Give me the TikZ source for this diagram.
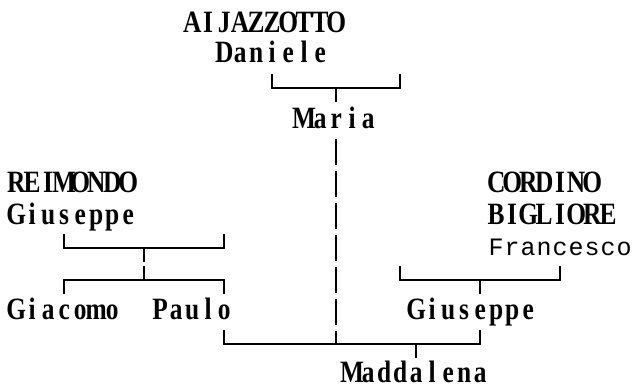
\documentclass[tikz,border=0pt]{standalone}
\usepackage{fontspec}
\newfontfamily\namefont{Liberation Serif}[FakeStretch=0.82]
\newfontfamily\codefont{Liberation Mono}
\newcommand\cellchars[1]{\cellcharsi#1\relax}
\def\cellcharsi#1{\ifx\relax#1\else\makebox[16pt]{#1}\expandafter\cellcharsi\fi}
\tikzset{
  person/.style={anchor=base west, inner sep=0pt, font=\namefont\bfseries\fontsize{31}{32}\selectfont},
  persontt/.style={anchor=base west, inner sep=0pt, font=\codefont\fontsize{25}{32}\selectfont},
  link/.style={line width=1.6pt, line cap=rect},
  vdash/.style={line width=1.6pt, dash pattern=on 26pt off 6pt}
}
\begin{document}
\begin{tikzpicture}[x=1pt,y=-1pt]
\useasboundingbox[fill=white] (0,0) rectangle (633,388);
% names
\node[person] (aij) at (184,32) {\cellchars{AIJAZZOTTO}};
\node[person] (dan) at (216,63) {\cellchars{Daniele}};
\node[person] (mar) at (296,128) {\cellchars{Maria}};
\node[person] (rei) at (8,192) {\cellchars{REIMONDO}};
\node[person] (giuL) at (8,224) {\cellchars{Giuseppe}};
\node[person] (cor) at (488,192) {\cellchars{CORDINO}};
\node[person] (big) at (488,224) {\cellchars{BIGLIORE}};
\node[persontt] (fra) at (488,255) {\cellchars{Francesco}};
\node[person] (gia) at (8,319) {\cellchars{Giacomo}};
\node[person] (pau) at (152,319) {\cellchars{Paulo}};
\node[person] (giuR) at (408,319) {\cellchars{Giuseppe}};
\node[person, text depth=0pt] (mad) at (344,382) {\cellchars{Maddalena}};
% coordinates
\coordinate (t1) at (272,75);  \coordinate (t2) at (400,75);
\coordinate (tm) at (336,88);  \coordinate (tmd) at (336,101);
\coordinate (v0) at (336,139); \coordinate (v1) at (336,344);
\coordinate (l1) at (64,235);  \coordinate (l2) at (224,235);
\coordinate (lm) at (144,248); \coordinate (lmd) at (144,261);
\coordinate (k1) at (64,293);  \coordinate (k2) at (224,293);
\coordinate (km) at (144,280); \coordinate (kmu) at (144,267);
\coordinate (r1) at (400,267); \coordinate (r2) at (560,267);
\coordinate (rm) at (480,280); \coordinate (rmd) at (480,293);
\coordinate (b1) at (224,331); \coordinate (b2) at (480,331);
\coordinate (bm) at (416,344); \coordinate (bmd) at (416,357);
% connectors
\draw[link] (t1) |- (tm) -| (t2);
\draw[link] (tm) -- (tmd);
\draw[vdash] (v0) -- (v1);
\draw[link] (l1) |- (lm) -| (l2);
\draw[link] (lm) -- (lmd);
\draw[link] (k1) |- (km) -| (k2);
\draw[link] (km) -- (kmu);
\draw[link] (r1) |- (rm) -| (r2);
\draw[link] (rm) -- (rmd);
\draw[link] (b1) |- (bm) -| (b2);
\draw[link] (bm) -- (bmd);
\end{tikzpicture}
\end{document}
